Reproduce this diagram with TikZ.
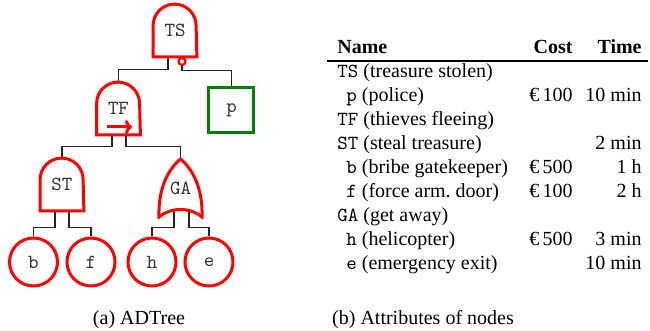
\documentclass[tikz,border=0pt]{standalone}
\usepackage{fontspec}
\setmainfont{Liberation Serif}
\usetikzlibrary{calc,arrows.meta}
\definecolor{gred}{RGB}{255,0,0}
\definecolor{ggreen}{RGB}{0,128,0}
\pgfdeclarelayer{conns}
\pgfdeclarelayer{shapes}
\pgfsetlayers{conns,shapes,main}
\tikzset{
  gate/.style={draw=gred, line width=1.5pt, fill=white},
  gatebox/.style={inner sep=0pt, minimum width=21.5pt, minimum height=26pt, font=\ttfamily, text=black!80},
  leaf/.style={circle, draw=gred, line width=1.5pt, fill=white, minimum size=24pt, inner sep=0pt, font=\ttfamily, text=black!80},
  defbox/.style={rectangle, draw=ggreen, line width=1.5pt, fill=white, minimum size=22.5pt, inner sep=0pt, font=\ttfamily, text=black!80},
  conn/.style={draw=black!85, line width=0.55pt},
  negc/.style={circle, draw=gred, line width=1.1pt, fill=white, minimum size=3.5pt, inner sep=0pt},
  namecol/.style={anchor=base west, inner sep=0pt},
  numcol/.style={anchor=base east, inner sep=0pt},
  capt/.style={anchor=base, inner sep=0pt},
}
\newcommand\andshape[1]{\draw[gate] (#1.south west) -- ($(#1.north west)+(0,21.5)$) arc[start angle=180,end angle=0,radius=10.75pt] -- (#1.south east) -- cycle;}
\begin{document}
\begin{tikzpicture}[x=0.5pt,y=-0.5pt]
\useasboundingbox (0,0) rectangle (650,331);
% tree nodes
\node[gatebox] (TS) at (175,30.5) {TS};
\node[negc] (neg) at (182,61.5) {};
\node[defbox] (p) at (231.5,110.5) {p};
\node[gatebox] (TF) at (118.5,108.5) {TF};
\node[gatebox] (ST) at (62,184.5) {\raisebox{-1.75pt}{ST}};
\node[gatebox, minimum height=29pt] (GA) at (180.5,188) {\raisebox{-2.5pt}{GA}};
\node[leaf] (b) at (33.5,262) {b};
\node[leaf] (f) at (91,262) {f};
\node[leaf] (h) at (152,262) {h};
\node[leaf] (e) at (209,262) {e};
\begin{pgfonlayer}{shapes}
\andshape{TS}
\andshape{TF}
\andshape{ST}
\begin{scope}[shift={(GA.center)}]
\draw[gate] (-21.5,29) .. controls (-22.5,0) and (-12,-19) .. (0,-29) .. controls (12,-19) and (22.5,0) .. (21.5,29) .. controls (10,19) and (-10,19) .. cycle;
\end{scope}
\end{pgfonlayer}
\draw[gred, line width=1.5pt, -{To[length=3.5pt,width=7pt]}] ($(TF.center)+(-11.5,18.5)$) -- ($(TF.center)+(13.5,18.5)$);
% connectors
\begin{pgfonlayer}{conns}
\draw[conn] ($(TS.south)+(-7,0)$) -- ++(0,12.5) -| (TF.north);
\draw[conn] (neg.south) -- ++(0,4.5) -| (p.north);
\draw[conn] ($(TF.south)+(-6.5,0)$) -- ++(0,12) -| (ST.north);
\draw[conn] ($(TF.south)+(7.5,0)$) -- ++(0,12) -| (GA.north);
\draw[conn] ($(ST.south)+(-7,0)$) -- ++(0,16.5) -| (b.north);
\draw[conn] ($(ST.south)+(7,0)$) -- ++(0,16.5) -| (f.north);
\draw[conn] ($(GA.south)+(-6.5,-8)$) -- ++(0,18) -| (h.north);
\draw[conn] ($(GA.south)+(8.5,-8)$) -- ++(0,18) -| (e.north);
\end{pgfonlayer}
% table
\node[namecol] (hName) at (337,54) {\textbf{Name}};
\node[numcol] (hCost) at (573,54) {\textbf{Cost}};
\node[numcol] (hTime) at (642,54) {\textbf{Time}};
\coordinate (ruleL) at (327,61);
\coordinate (ruleR) at (648,61);
\draw[line width=0.8pt] (ruleL) -- (ruleR);
\node[namecol] (r1) at (337,77.5) {\texttt{TS} (treasure stolen)};
\node[namecol] (r2) at (346,101.5) {\texttt{p} (police)};
\node[numcol] (r2c) at (573,101.5) {€\,100};
\node[numcol] (r2t) at (642,101.5) {10 min};
\node[namecol] (r3) at (337,125.5) {\texttt{TF} (thieves fleeing)};
\node[namecol] (r4) at (337,149.5) {\texttt{ST} (steal treasure)};
\node[numcol] (r4t) at (642,149.5) {2 min};
\node[namecol] (r5) at (346,173.5) {\texttt{b} (bribe gatekeeper)};
\node[numcol] (r5c) at (573,173.5) {€\,500};
\node[numcol] (r5t) at (642,173.5) {1 h};
\node[namecol] (r6) at (346,197.5) {\texttt{f} (force arm.\ door)};
\node[numcol] (r6c) at (573,197.5) {€\,100};
\node[numcol] (r6t) at (642,197.5) {2 h};
\node[namecol] (r7) at (337,221.5) {\texttt{GA} (get away)};
\node[namecol] (r8) at (346,245.5) {\texttt{h} (helicopter)};
\node[numcol] (r8c) at (573,245.5) {€\,500};
\node[numcol] (r8t) at (642,245.5) {3 min};
\node[namecol] (r9) at (346,269.5) {\texttt{e} (emergency exit)};
\node[numcol] (r9t) at (642,269.5) {10 min};
% captions
\node[capt] (capa) at (139,325) {(a) ADTree};
\node[capt] (capb) at (423,325) {(b) Attributes of nodes};
\end{tikzpicture}
\end{document}
